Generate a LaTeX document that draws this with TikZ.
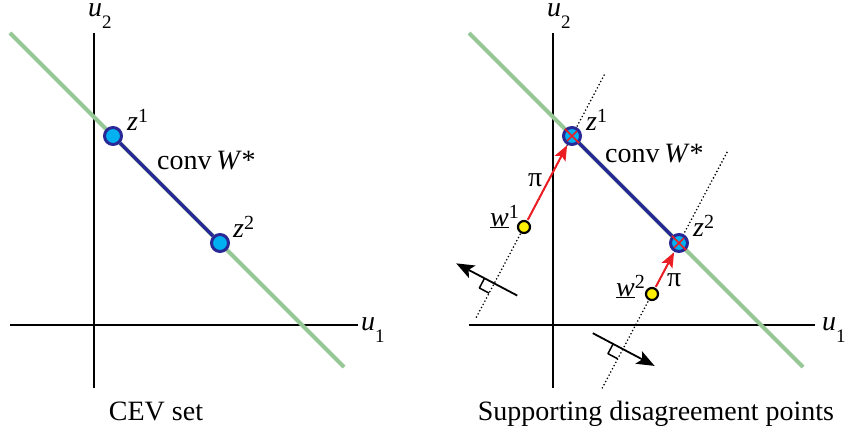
\documentclass[tikz,border=0pt]{standalone}
\usepackage{fontspec}
\setmainfont{Liberation Serif}
\usetikzlibrary{arrows.meta,calc}
\definecolor{budgetgreen}{RGB}{150,200,150}
\definecolor{hullblue}{RGB}{40,40,150}
\definecolor{zcyan}{RGB}{0,176,240}
\definecolor{wyellow}{RGB}{255,240,0}
\definecolor{pired}{RGB}{235,30,35}
\newcommand{\supidx}[1]{\raisebox{8pt}{\fontsize{20}{20}\selectfont #1}}
\newcommand{\subidx}[1]{\raisebox{-12pt}{\fontsize{19}{19}\selectfont #1}}
\newcommand{\wbar}{\underline{\textit{w}}}

\begin{document}
\begin{tikzpicture}[x=1pt,y=-1pt,line join=round,font=\fontsize{28}{33}\selectfont,
  axis/.style={line width=2pt},
  budget/.style={line width=4pt,draw=budgetgreen},
  hull/.style={line width=3.5pt,draw=hullblue},
  zdot/.style={circle,minimum size=17pt,inner sep=0pt,fill=zcyan,draw=hullblue,line width=3pt},
  wdot/.style={circle,minimum size=12pt,inner sep=0pt,fill=wyellow,draw=black,line width=2.2pt},
  support/.style={line width=1.8pt,line cap=round,dash pattern=on 0pt off 3.6pt},
  piarrow/.style={-{Stealth[length=15pt,width=12pt,inset=3pt]},line width=2pt,draw=pired,fill=pired,shorten <=1pt,shorten >=0.5pt},
  xmark/.style={line width=1.5pt,draw=pired,shorten <=3pt,shorten >=3pt},
  normal/.style={-{Stealth[length=18pt,width=14pt,inset=4pt]},line width=1.8pt},
  rightangle/.style={line width=1.5pt},
  lbl/.style={inner sep=0pt,anchor=base west}]
\useasboundingbox (0,0) rectangle (846,433);
% CEV set
\coordinate (lxa) at (10,325);
\coordinate (lxb) at (358,325);
\coordinate (lya) at (94,388);
\coordinate (lyb) at (94,33);
\coordinate (lga) at (10,33);
\coordinate (lgb) at (344,367);
\draw[axis] (lya) -- (lyb);
\draw[axis] (lxa) -- (lxb);
\draw[budget] (lga) -- (lgb);
\node[zdot] (lz1) at (113,136) {};
\node[zdot] (lz2) at (220,243) {};
\draw[hull] (lz1) -- (lz2);
\node[lbl] (lu2) at (88,17) {\textit{u}\subidx{2}};
\node[lbl] (lu1) at (361,330) {\textit{u}\subidx{1}};
\node[lbl] (lz1lab) at (127,131) {\textit{z}\supidx{1}};
\node[lbl] (lz2lab) at (233,237) {\textit{z}\supidx{2}};
\node[lbl] (lconv) at (157,170) {conv\,\textit{W}*};
\node[anchor=base,inner sep=0pt] (lcap) at (156,420) {CEV set};
% supporting disagreement points
\coordinate (rxa) at (469,325);
\coordinate (rxb) at (815,325);
\coordinate (rya) at (553,388);
\coordinate (ryb) at (553,33);
\coordinate (rga) at (469,33);
\coordinate (rgb) at (803,367);
\coordinate (cz1) at (572,136);
\coordinate (cz2) at (679,243);
\coordinate (cw1) at (524,227);
\coordinate (cw2) at (652,294);
\draw[axis] (rya) -- (ryb);
\draw[axis] (rxa) -- (rxb);
\draw[budget] (rga) -- (rgb);
\draw[support] ($(cw1)!-0.99!(cz1)$) -- ($(cw1)!1.68!(cz1)$);
\draw[support] ($(cw2)!-1.84!(cz2)$) -- ($(cw2)!2.82!(cz2)$);
% normals
\coordinate (n1) at ($(cw1)!-0.62!(cz1)$);
\coordinate (n1tail) at ($(n1)!26pt!-90:(cw1)$);
\coordinate (n1tip) at ($(n1)!43pt!90:(cw1)$);
\coordinate (s1a) at ($(n1)!11pt!(n1tip)$);
\coordinate (s1b) at ($(n1)!-11pt!(cw1)$);
\draw[normal] (n1tail) -- (n1tip);
\draw[rightangle] (s1a) -- ($(s1a)+(s1b)-(n1)$) -- (s1b);
\coordinate (n2) at ($(cw2)!-1.08!(cz2)$);
\coordinate (n2tail) at ($(n2)!34pt!90:(cw2)$);
\coordinate (n2tip) at ($(n2)!36pt!-90:(cw2)$);
\coordinate (s2a) at ($(n2)!11pt!(n2tail)$);
\coordinate (s2b) at ($(n2)!-11pt!(cw2)$);
\draw[normal] (n2tail) -- (n2tip);
\draw[rightangle] (s2a) -- ($(s2a)+(s2b)-(n2)$) -- (s2b);
\node[zdot] (rz1) at (cz1) {};
\node[zdot] (rz2) at (cz2) {};
\draw[hull] (rz1) -- (rz2);
\draw[xmark] (rz1.north west) -- (rz1.south east) (rz1.north east) -- (rz1.south west);
\draw[xmark] (rz2.north west) -- (rz2.south east) (rz2.north east) -- (rz2.south west);
\node[wdot] (w1) at (cw1) {};
\node[wdot] (w2) at (cw2) {};
\draw[piarrow] (w1) -- (rz1);
\draw[piarrow] (w2) -- (rz2);
\node[lbl] (ru2) at (547,17) {\textit{u}\subidx{2}};
\node[lbl] (ru1) at (822,330) {\textit{u}\subidx{1}};
\node[lbl] (rz1lab) at (586,131) {\textit{z}\supidx{1}};
\node[lbl] (rz2lab) at (693,236) {\textit{z}\supidx{2}};
\node[lbl] (rconv) at (605,163) {conv\,\textit{W}*};
\node[lbl] (pi1) at (528,186) {π};
\node[lbl] (pi2) at (667,286) {π};
\node[lbl] (w1lab) at (490,226) {\wbar\supidx{1}};
\node[lbl] (w2lab) at (616,296) {\wbar\supidx{2}};
\node[anchor=base,inner sep=0pt] (rcap) at (656,420) {Supporting disagreement points};
\end{tikzpicture}
\end{document}
